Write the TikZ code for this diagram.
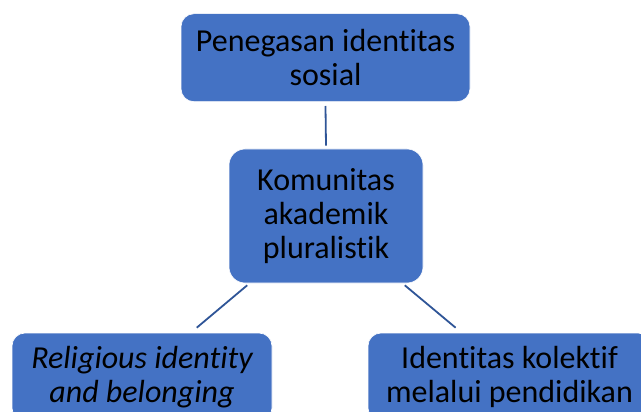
\documentclass[tikz,border=0pt]{standalone}
\usepackage{fontspec}
\setmainfont{Carlito}[Ligatures=CommonOff]
\usetikzlibrary{calc}
\definecolor{boxblue}{HTML}{4472C4}
\definecolor{linkblue}{HTML}{2F5597}
\tikzset{
    idbox/.style={draw=white, line width=0.6pt, fill=boxblue, rounded corners=13pt,
        align=center, inner sep=0pt, font=\fontsize{32}{34}\selectfont},
    link/.style={draw=linkblue, line width=1.8pt}
}

\begin{document}
\begin{tikzpicture}[x=1pt, y=-1pt]
    \useasboundingbox (0,0) rectangle (641,412);
    \clip (0,0) rectangle (641,412);
    \node[idbox, minimum width=289pt, minimum height=88pt] (sosial) at (325.5,57.7) {Penegasan identitas\\sosial};
    \node[idbox, minimum width=194pt, minimum height=134pt, rounded corners=16pt] (komunitas) at (326,216) {Komunitas\\akademik\\pluralistik};
    \node[idbox, minimum width=260pt, minimum height=88pt, font=\fontsize{32}{34}\selectfont\itshape] (religi) at (142,377) {Religious identity\\and belonging};
    \node[idbox, minimum width=283pt, minimum height=88pt] (kolektif) at (509.5,377) {Identitas kolektif\\melalui pendidikan};
    \draw[link] ($(sosial.south)+(0,4)$) -- ($(komunitas.north)+(0,-3)$);
    \draw[link] ($(komunitas.south)!0.81!(komunitas.south west)+(0,2)$) -- ($(religi.north)!0.42!(religi.north east)+(0,-5)$);
    \draw[link] ($(komunitas.south)!0.81!(komunitas.south east)+(0,2)$) -- ($(kolektif.north)!0.38!(kolektif.north west)+(0,-5)$);
\end{tikzpicture}
\end{document}
